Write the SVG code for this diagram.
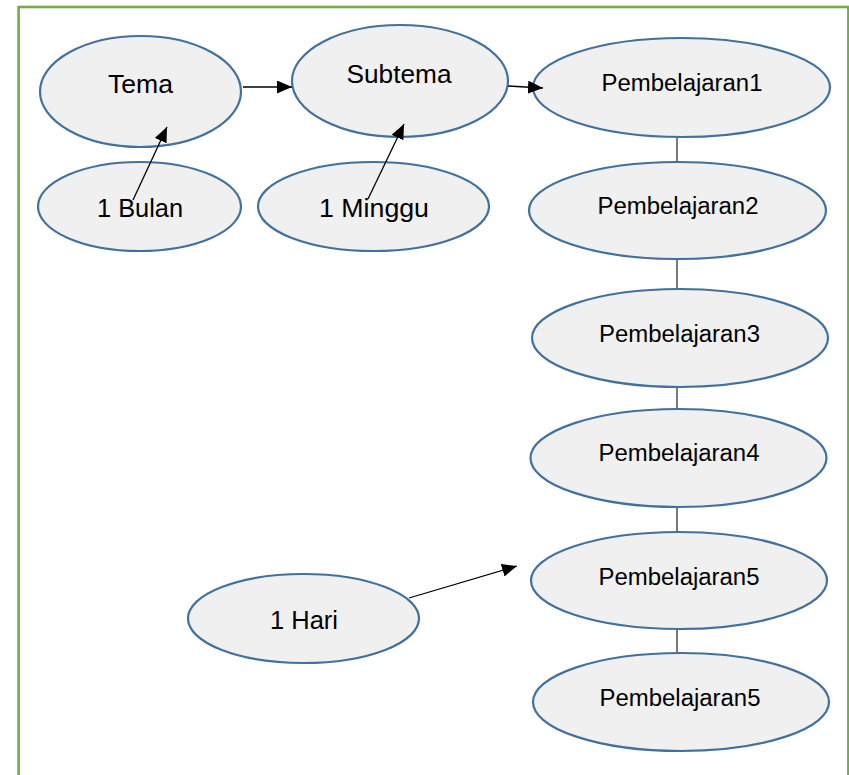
<svg xmlns="http://www.w3.org/2000/svg" width="849" height="775" viewBox="0 0 849 775">
  <style>
    .node ellipse { fill: #F0F0F0; stroke: #41719C; stroke-width: 2.2; }
    .node text { font-family: "Liberation Sans", Arial, sans-serif; fill: #000; text-anchor: middle; }
    .big { font-size: 25px; }
    .small { font-size: 23px; }
    .arrow { stroke: #000; stroke-width: 1.3; fill: none; marker-end: url(#head); }
    .link { stroke: #404040; stroke-width: 1.4; fill: none; }
  </style>
  <defs>
    <marker id="head" markerUnits="userSpaceOnUse" markerWidth="15" markerHeight="13" refX="15" refY="6.5" orient="auto">
      <path d="M0,0 L15,6.5 L0,13 Z" fill="#000"/>
    </marker>
  </defs>

  <rect width="849" height="775" fill="#FFFFFF"/>
  <!-- frame -->
  <rect x="18.6" y="7" width="829.8" height="800" fill="none" stroke="#70AD47" stroke-width="2.6"/>

  <!-- nodes -->
  <g id="tema" class="node">
    <ellipse cx="140.5" cy="91.5" rx="100.5" ry="55.5"/>
    <text class="big" x="140.5" y="93" font-size="26" textLength="65" lengthAdjust="spacingAndGlyphs">Tema</text>
  </g>
  <g id="bulan" class="node">
    <ellipse cx="139.5" cy="206.5" rx="101.5" ry="44.5"/>
    <text class="big" x="140" y="217" textLength="86" lengthAdjust="spacingAndGlyphs">1 Bulan</text>
  </g>
  <g id="subtema" class="node">
    <ellipse cx="400" cy="81" rx="108" ry="56"/>
    <text class="big" x="399" y="82.5" textLength="105" lengthAdjust="spacingAndGlyphs">Subtema</text>
  </g>
  <g id="minggu" class="node">
    <ellipse cx="373.5" cy="206.5" rx="115.5" ry="44.5"/>
    <text class="big" x="374" y="217" textLength="110" lengthAdjust="spacingAndGlyphs">1 Minggu</text>
  </g>
  <g id="hari" class="node">
    <ellipse cx="303.5" cy="618.5" rx="115.5" ry="44.5"/>
    <text class="big" x="304" y="629" textLength="68" lengthAdjust="spacingAndGlyphs">1 Hari</text>
  </g>
  <g id="pembelajaran1" class="node">
    <ellipse cx="681.5" cy="87.5" rx="148.5" ry="49.5"/>
    <text class="small" x="682" y="90.5" textLength="161" lengthAdjust="spacingAndGlyphs">Pembelajaran1</text>
  </g>
  <g id="pembelajaran2" class="node">
    <ellipse cx="677.5" cy="210.5" rx="148.5" ry="48.5"/>
    <text class="small" x="678" y="214" textLength="161" lengthAdjust="spacingAndGlyphs">Pembelajaran2</text>
  </g>
  <g id="pembelajaran3" class="node">
    <ellipse cx="680" cy="338" rx="148" ry="49"/>
    <text class="small" x="679.5" y="341.5" textLength="161" lengthAdjust="spacingAndGlyphs">Pembelajaran3</text>
  </g>
  <g id="pembelajaran4" class="node">
    <ellipse cx="678.5" cy="458" rx="148" ry="49"/>
    <text class="small" x="679" y="461" textLength="161" lengthAdjust="spacingAndGlyphs">Pembelajaran4</text>
  </g>
  <g id="pembelajaran5a" class="node">
    <ellipse cx="679" cy="580.5" rx="148" ry="48.5"/>
    <text class="small" x="679" y="585" textLength="161" lengthAdjust="spacingAndGlyphs">Pembelajaran5</text>
  </g>
  <g id="pembelajaran5b" class="node">
    <ellipse cx="681" cy="702" rx="148" ry="49"/>
    <text class="small" x="680" y="706" textLength="161" lengthAdjust="spacingAndGlyphs">Pembelajaran5</text>
  </g>

  <!-- connectors, drawn above the ellipses -->
  <g id="connectors">
    <line class="arrow" x1="243" y1="87" x2="292" y2="87"/>
    <line class="arrow" x1="508" y1="86" x2="543" y2="88"/>
    <line class="arrow" x1="133" y1="200" x2="167" y2="127"/>
    <line class="arrow" x1="368" y1="199" x2="404" y2="124"/>
    <line class="arrow" x1="409" y1="598" x2="517" y2="566"/>
    <line class="link" x1="677" y1="138" x2="677" y2="161"/>
    <line class="link" x1="677" y1="260" x2="677" y2="288"/>
    <line class="link" x1="677" y1="388" x2="677" y2="408"/>
    <line class="link" x1="677" y1="508" x2="677" y2="531"/>
    <line class="link" x1="677" y1="630" x2="677" y2="652"/>
  </g>
</svg>
